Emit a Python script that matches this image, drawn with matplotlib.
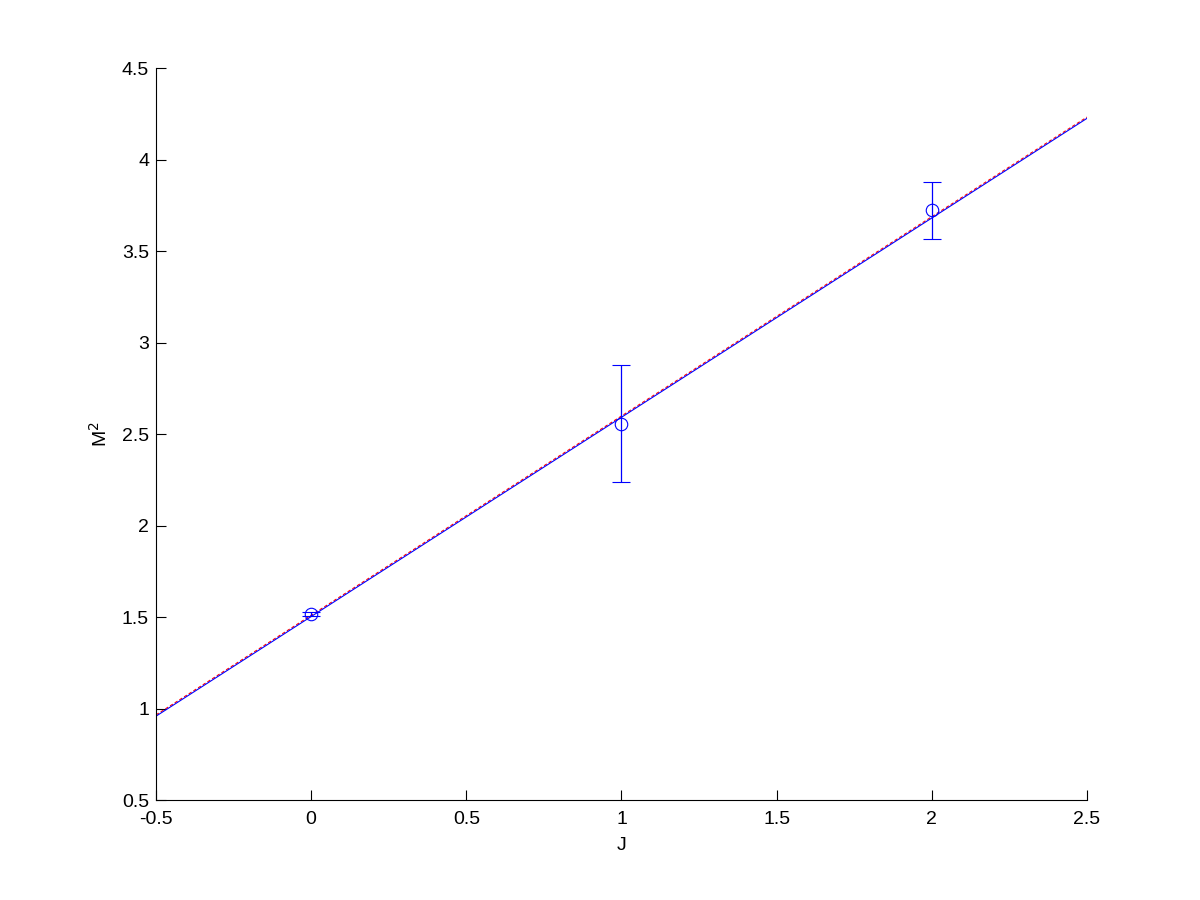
import numpy as np
import matplotlib
matplotlib.use('Agg')
import matplotlib.pyplot as plt

# measured points
J = [0, 1, 2]
M2 = [1.516, 2.558, 3.724]
M2_err = [0.011, 0.322, 0.156]

# linear fits (slope, intercept)
fit_blue = (1.089, 1.503)
fit_red = (1.089, 1.510)
x_fit = [-0.5, 2.5]

plt.rcParams['font.family'] = ['Liberation Sans', 'DejaVu Sans']

fig = plt.figure(figsize=(12, 9), dpi=100)
ax = fig.add_axes([0.13, 0.111, 0.7758, 0.8133])

xf = np.array(x_fit)
ax.plot(xf, fit_red[0]*xf + fit_red[1], color='red', lw=0.8, ls='--', dashes=(3, 2))
ax.plot(xf, fit_blue[0]*xf + fit_blue[1], color='blue', lw=0.8)
ax.errorbar(J, M2, yerr=M2_err, fmt='o', mfc='none', mec='blue', ecolor='blue',
            ms=9, mew=0.8, elinewidth=0.9, capsize=6.5, capthick=0.9)

ax.set_xlim(-0.5, 2.5)
ax.set_ylim(0.5, 4.5)
ax.set_xticks(np.arange(-0.5, 2.51, 0.5))
ax.set_yticks(np.arange(0.5, 4.51, 0.5))
ax.set_xticklabels(['-0.5', '0', '0.5', '1', '1.5', '2', '2.5'])
ax.set_yticklabels(['0.5', '1', '1.5', '2', '2.5', '3', '3.5', '4', '4.5'])
ax.spines['top'].set_visible(False)
ax.spines['right'].set_visible(False)
ax.tick_params(direction='in', length=7, width=0.8, labelsize=14)
ax.tick_params(axis='x', pad=8)
ax.tick_params(axis='y', pad=5)
ax.set_xlabel('J', fontsize=14, labelpad=6)
ax.set_ylabel('M$^2$', fontsize=14, labelpad=8)

fig.savefig('out.png', dpi=100)
